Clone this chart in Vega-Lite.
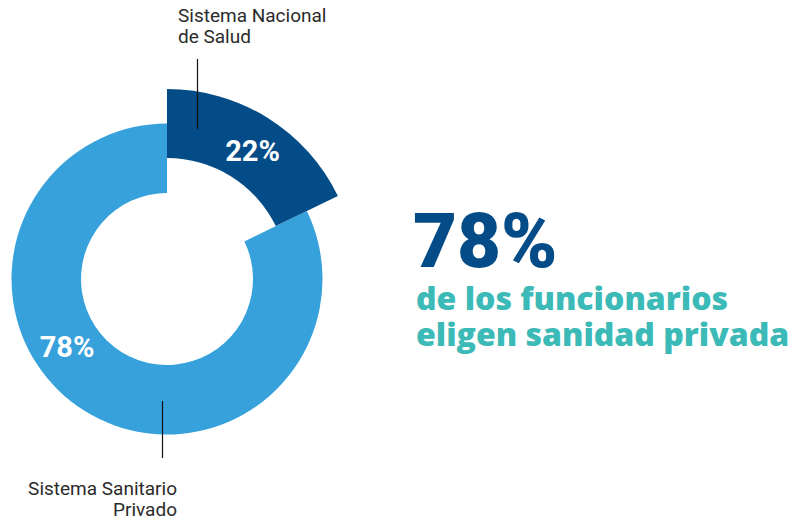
{
  "$schema": "https://vega.github.io/schema/vega-lite/v6.json",
  "width": 334,
  "height": 486,
  "autosize": {"type": "none"},
  "padding": {"left": 0, "top": 36, "right": 474, "bottom": 0},
  "background": "white",
  "config": {"view": {"stroke": null}, "font": "Roboto"},
  "data": {
    "values": [
      {"sistema": "Sistema Nacional de Salud", "proporcion": 0.22, "dibujado": 17.8, "orden": 1},
      {"sistema": "Sistema Sanitario Privado", "proporcion": 0.78, "dibujado": 82.2, "orden": 2}
    ]
  },
  "transform": [
    {"stack": "dibujado", "groupby": [], "sort": [{"field": "orden"}], "as": ["ini", "fin"]}
  ],
  "layer": [
    {
      "transform": [{"filter": "datum.orden == 2"}],
      "mark": {"type": "arc", "innerRadius": 86, "outerRadius": 155.5, "color": "#37a1dc"},
      "encoding": {
        "theta": {"field": "ini", "type": "quantitative", "scale": {"domain": [0, 100], "range": [0, 6.283185307179586]}},
        "theta2": {"field": "fin"}
      }
    },
    {
      "transform": [{"filter": "datum.orden == 1"}],
      "mark": {"type": "arc", "innerRadius": 121, "outerRadius": 190, "color": "#034c87"},
      "encoding": {
        "theta": {"field": "ini", "type": "quantitative", "scale": {"domain": [0, 100], "range": [0, 6.283185307179586]}},
        "theta2": {"field": "fin"}
      }
    },
    {
      "transform": [{"filter": "datum.orden == 1"}],
      "mark": {"type": "text", "radius": 153, "theta": 0.593, "fontSize": 29, "fontWeight": "bold", "color": "white", "align": "center", "baseline": "middle"},
      "encoding": {"text": {"field": "proporcion", "type": "quantitative", "format": ".0%"}}
    },
    {
      "transform": [{"filter": "datum.orden == 2"}],
      "mark": {"type": "text", "radius": 121.5, "theta": 4.108, "fontSize": 29, "fontWeight": "bold", "color": "white", "align": "center", "baseline": "middle"},
      "encoding": {"text": {"field": "proporcion", "type": "quantitative", "format": ".0%"}}
    },
    {
      "data": {"values": [{}]},
      "mark": {"type": "rule", "color": "#111111", "strokeWidth": 1.2},
      "encoding": {"x": {"value": 197.5}, "y": {"value": 23}, "y2": {"value": 93}}
    },
    {
      "data": {"values": [{}]},
      "mark": {"type": "rule", "color": "#111111", "strokeWidth": 1.2},
      "encoding": {"x": {"value": 162.5}, "y": {"value": 365}, "y2": {"value": 422}}
    },
    {
      "data": {"values": [{}]},
      "mark": {"type": "text", "x": 178, "y": -14, "align": "left", "baseline": "alphabetic", "fontSize": 19, "lineHeight": 21, "color": "#2b2b2b"},
      "encoding": {"text": {"value": ["Sistema Nacional", "de Salud"]}}
    },
    {
      "data": {"values": [{}]},
      "mark": {"type": "text", "x": 177, "y": 459, "align": "right", "baseline": "alphabetic", "fontSize": 19, "lineHeight": 21, "color": "#2b2b2b"},
      "encoding": {"text": {"value": ["Sistema Sanitario", "Privado"]}}
    },
    {
      "data": {"values": [{}]},
      "mark": {"type": "text", "x": 413, "y": 231, "align": "left", "baseline": "alphabetic", "fontSize": 76, "fontWeight": 900, "color": "#034c87"},
      "encoding": {"text": {"value": "78%"}}
    },
    {
      "data": {"values": [{}]},
      "mark": {"type": "text", "x": 416, "y": 274, "align": "left", "baseline": "alphabetic", "fontSize": 32, "lineHeight": 36, "fontWeight": 800, "font": "Open Sans", "color": "#3bbab7"},
      "encoding": {"text": {"value": ["de los funcionarios", "eligen sanidad privada"]}}
    }
  ]
}
